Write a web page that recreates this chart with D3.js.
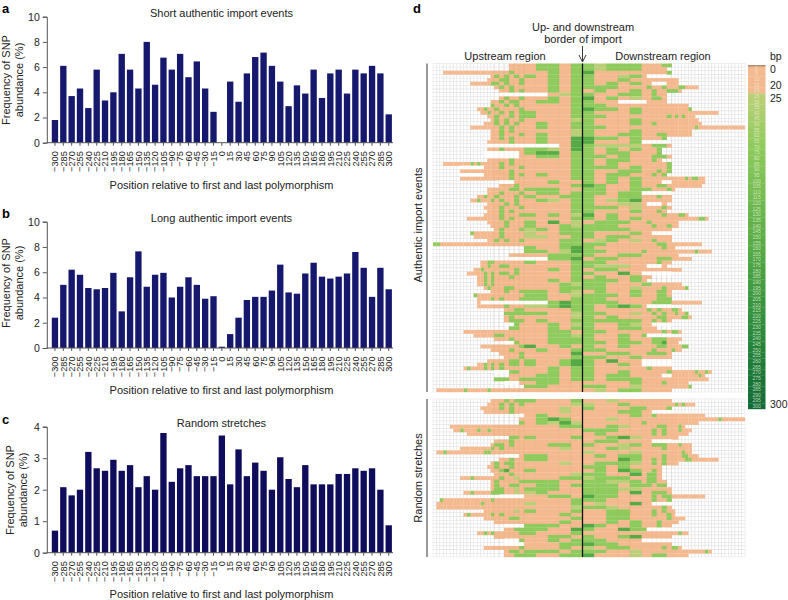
<!DOCTYPE html>
<html>
<head>
<meta charset="utf-8">
<script src="https://cdn.jsdelivr.net/npm/d3@7"></script>
<style>
  body { margin: 0; background: #fff; }
  text { font-family: "Liberation Sans", Arial, sans-serif; fill: #222; }
</style>
</head>
<body>
<script>
const positions = ["−300","−285","−270","−255","−240","−225","−210","−195","−180","−165","−150","−135","−120","−105","−90","−75","−60","−45","−30","−15","0","15","30","45","60","75","90","105","120","135","150","165","180","195","210","225","240","255","270","285","300"];

const shortEvents = [1.8,6.1,3.7,4.3,2.75,5.8,3.35,4.0,7.05,5.8,4.3,8.0,4.6,6.75,5.8,7.05,5.2,6.45,4.3,2.45,0,4.85,3.25,5.5,6.8,7.15,6.1,4.85,2.9,4.55,3.9,5.8,3.55,5.5,5.8,3.9,5.8,5.5,6.1,5.5,2.25];
const longEvents = [2.4,5.0,6.2,5.8,4.75,4.65,4.75,5.95,2.9,5.6,7.65,4.85,5.8,5.95,4.0,4.85,5.6,5.0,3.9,4.1,0.1,1.1,2.4,3.8,4.05,4.05,4.55,6.6,4.4,4.3,5.9,6.75,5.65,5.5,5.65,5.9,7.6,6.35,4.05,6.35,4.65];
const randomStretches = [0.7,2.08,1.82,2.0,3.2,2.68,2.6,2.95,2.6,2.78,2.08,2.43,2.0,3.8,2.25,2.68,2.78,2.43,2.43,2.43,3.72,2.17,3.28,2.43,2.86,2.6,2.0,3.03,2.34,2.08,2.78,2.17,2.17,2.17,2.5,2.5,2.68,2.6,2.68,2.0,0.87];

// heatmap : une lettre par case, o = 0 bp, a b c d = de plus en plus vert, _ = blanc
// upstream rows are written up to the border, downstream rows start from it
const bpCodes = { o: 0, a: 25, b: 70, c: 160, d: 240 };

const authenticUp = [
"ooo obbob","ooo obbob","ooooooooooooooo oooboo oobob","o bobobo bobob","oo obboob oobob","oooooob boboob oobob","oboboo oobob","oobob oobob","_____ __oab","oboob oobob",
"o obobbo obbob","b oobobo oooob","ooboo boooob oooob","oobo obobob booob","oo boobob booob","o boboob ooooa","ooo bobobo oboob","ooooooo oboboo oboob","o oboboo ooooa","o obooob obooa",
"o oboboo obooc","oo oooboo obooc","__ ______ ___oc","oo oboooo bbaoc","___ _____o bccob","__ _____o obbob","oo oooboo oooob","ooooooooboboooo oboboo oooob","_______ooo obooob oooob","oooooooooo oooboo oooob",
"_______ooo ooobob oboob","oooooooooo oooboo oooob","___oo ooboo","ooobo oooob","oo ooobbo bbboo","oo obooob obbob","ooboo booobo boobb","oobooob oboobo obaob","oo oobobo oooob","ooo obooob oooob",
"oo oboboo oooob","ooo obooob boboa","oooooooo oboboo oooob","oo oobooo bocoa","o oobooo booba","obooob abobb","boooooo oboooo aoobb","oooooo oboooo aaoob","oo boboob ooobb","bboooooooooooooooo oooooo ooobb",
"boobc","bboac","ooo oobbb","___ __bbc","oobb oooooo booob","oobo obbooo oooob","oobooo oooobo oobob","ooooobob obbobo oooob","oobob oooboo oooob","oobob oooooo oobob",
"oobob oooooo oooba","obo oobboo ooobb","o ooboob bboba","booooo oooooo bbooa","oooob obooob bboob","o____ ______ __bcb","ooooo oobooo aabcb","oobb oooob","bbbb bbooa","oboo ooooa",
"obbb oboob","__bo ooboa","bbo oobob","ooooooooo oooooo oobbo","oooooo bboooo oobba","oooboo oobbb","__bo oobbb","oooo ooooob coobo","o oooboo oboob","oooob ooooc",
"ooob oooob","oo ooobbo boobc","oobob obobbo boobc","oboooobob oboooo oobob","___bbo oobob","ooo obbob","bbboob bbbob","___o obboo","bbooo","ooooooooboooooobo oooooo ooooo"
];

const authenticDown = [
"babbb oooobb","babbb ooooo","coooo ooooob","booab o____","boobo oooooo oo","bobob oo___o oo","bbboo oboobo oobboooo","oboob ooboob bbo","boobb ooboo","coboa oobbo",
"boo__ _oooo","bbooo oooooo ooooo","cbbob oooooo ooooob","booob oooooo oooooooooooooo","bbooo ooooob obobooo","booob oooooo oooooooo","booob oobooo ooooooooo","bbooo oooooo oooooooboooooooooooooo","booob oooooo oooooo","boobb ooobbo oooooo",
"cbbob oooob","cooob _____","baaaa oobbbo","bobob ooob","bobbo ooob","bbobo oobbbo","bobbo oobo","boboo ooooob","bbbob ooooob","boobb ooobob",
"bobbo oobob","bobob oooooo oooobobboo","bobob oooo__ oooooooooo","cboob ooobbo ooooooooo","bboob bbooob o","bbobb ______","boobb oooboo","boabc oooooo","booaa o___o","bbboa oooobo",
"booob ooobo","coboo oooobo oobbo","bobob oooooo oooooooobbo","obbbo oboooo oo","bbboo ooboob oo","bbbbo oooooo","booob oo____","bobbo oooooo","oaboa oobooo","bbooo ooobbo ooooooooo",
"boooo oooobo o","bbooo booooo oooooooboooo","boobb oooooo oo","obboo ooobbb oooooo","bbooo oooboo","baaao o___o","obboo oooooo ooo","booco ______","oboob oo","bbbob o",
"bbooo bboooo ooo","bbooa oooobo oooob","oboob ooobbo","bbbob ooobbo","bbooo ooobbb","bbboo oobbbb ooooooooo","bobcb o_____","boooo oboboo bbo","bbooa oobobo oboob","boboo ooobbo ooobbo",
"bbbbb oobobo","booba oo____","boobb ooo","bbooo oooobo bbo","boobo b_____","boobo oobbbo ooo","bbobb oobbco oo","boobo ooobbo ooobb","bbooo oobooo boo","oobbo obbbbo",
"bboob oooooo","bocoo ______","boobo ______","boooo oboooo","boobo ooooob oooooooboobo","bobbo oooo__ oooooooobo","bobbb oooooo ooooooooooo","oooob oooobo ooooo","bbooa oooooo ooooob","oaobb oooooo"
];

const randomUp = [
"o oobobb booob","oo obobob ooooa","oooo oboboo oooao","ooo oooboo oooao","_ obooo","o obcbo","b obaca","ooooooooooooo oooooo ooobb","oobooooboobo oooooo ooooo","oooooooo oooooo ooooo",
"bbo booob","oooboo ooooo","o bboboo oobbo","ooooooooob oboooo oooao","oobooooooooooobbo oooooo ooooo","___o bbooo","ooboo bbooo","o bobboo oooao","oo booboo ooooo","o obcooo boooo",
"oooboo ooooa","oooboooooo obooao ooobb","o boooob bbboo","o boobbo obbob","o bbooao bbboo","oobooooob bbooao abooo","_____ oobbo","boooooooooooooob oooooo oooob","ooooooooooooobooo oooooo aooob","ooooooooooooooooo oooooo ooooa",
"ooo ooooao booob","oboooooob oboooo ooobo","ooo ooobbo oooob","oooooo ooobo","____ bbboo","oobb bbooc","oobob ooooob booob","oooooo oobbo","___b oobob","____ ooobb",
"ooo ooooob ooobo","obbo bbbob","oobb boobb"
];

const randomDown = [
"ooaoo oooooo","aoobo oooooo obobooo","booob boooob","ooobb oo____","oooob oobooo oooooooooo","ooaoo oooooo oooooooooooooobooooooo","ooooo booooo oooooooo","oobao ooobbo oobo","bbboo oobobo oobooo","obooo oobobo ooooo",
"oobca oooooo oo","obboo oo____","booab oobbbo oobooo","oobao oooobo oooooo","aoooa oooooo oooboo","obobb oooobo ooobbooo","ooocb oobobo oooobboooooooo","obbba oobobo oo","bbobo oooo","obocb oobo",
"bbooc obbo","abbbo obbo","bbaab obboo","bbbob bbobb","bbbaa oooooo","bbboc oobbbo","cbboo oobobb oooooooooo","bbooo ooboob","oaooc oo____","bbaoo oooobo",
"oobbo oobobo o","oobbo ooboob o","oobbo ooooob oooo","oobob oooboo oo","cboob oooboo","boocb b_____","ooooo oooooo ooboo","boobc oooooo","bbooo ______","cbboo oooooo",
"aobbo oooobo bbo","bbooa oooooo oooooooooobo","coooa oobbbo ooooo"
];

const largeur = 788, hauteur = 600;

// legend : 0 to 300 bp in steps of 5
const legendBp = d3.range(0, 301, 5);

const svg = d3.select("body").append("svg").attr("width", largeur).attr("height", hauteur);

// ---- les barres
function panneauBarres(cfg) {
  const x = d3.scaleBand().domain(positions).range([50.8, 392.9]).paddingInner(0.24).paddingOuter(0.12);
  const y = d3.scaleLinear().domain([0, cfg.max]).range([cfg.y0, cfg.y1]);
  const g = svg.append("g");

  g.selectAll("rect").data(cfg.values).join("rect")
    .attr("x", (d, i) => x(positions[i]))
    .attr("width", x.bandwidth())
    .attr("y", d => y(d))
    .attr("height", d => y(0) - y(d))
    .attr("fill", cfg.color);

  const axeY = g.append("g").attr("transform", "translate(46.8,0)")
    .call(d3.axisLeft(y).tickValues(cfg.ticks).tickFormat(d3.format("d")).tickSize(4).tickPadding(3));
  axeY.selectAll("text").style("font-size", "10.5px");
  axeY.selectAll("line,path").attr("stroke", "#555");

  const axeX = g.append("g").attr("transform", `translate(0,${cfg.y0})`)
    .call(d3.axisBottom(x).tickSize(3).tickSizeOuter(0));
  axeX.select(".domain").remove();
  axeX.selectAll("line").attr("stroke", "#555");
  axeX.selectAll("text")
    .style("font-size", "9.2px")
    .attr("text-anchor", "end")
    .attr("dy", null)
    .attr("transform", "translate(3.3,8.5) rotate(-90)")
    .attr("x", 0).attr("y", 0);
  g.append("line").attr("x1", 46.8).attr("x2", 393).attr("y1", cfg.y0).attr("y2", cfg.y0).attr("stroke", "#555");

  g.append("text").attr("x", cfg.titleX).attr("y", cfg.titleY).attr("text-anchor", "middle").style("font-size", "11px").text(cfg.title);
  g.append("text").attr("x", 221.5).attr("y", cfg.xTitleY).attr("text-anchor", "middle").style("font-size", "11px").text("Position relative to first and last polymorphism");
  g.append("text").attr("transform", `translate(${cfg.yTitleX},${cfg.yTitleY}) rotate(-90)`).attr("text-anchor", "middle").style("font-size", "11px")
    .selectAll("tspan").data(["Frequency of SNP", "abundance (%)"]).join("tspan")
    .attr("x", 0).attr("dy", (d, i) => i ? 12.5 : 0).text(d => d);
  svg.append("text").attr("x", 2).attr("y", cfg.letterY).style("font-size", "13px").style("font-weight", "bold").style("fill", "#000").text(cfg.letter);
}

panneauBarres({ values: shortEvents, max: 10, ticks: [0,2,4,6,8,10], y0: 142.7, y1: 16.7, color: "#15186c", title: "Short authentic import events", titleX: 221.5, titleY: 17, xTitleY: 189, yTitleX: 10, yTitleY: 80, letter: "a", letterY: 13 });
panneauBarres({ values: longEvents, max: 10, ticks: [0,2,4,6,8,10], y0: 348, y1: 221.7, color: "#15186c", title: "Long authentic import events", titleX: 221.5, titleY: 222, xTitleY: 394, yTitleX: 10, yTitleY: 283, letter: "b", letterY: 218 });
panneauBarres({ values: randomStretches, max: 4, ticks: [0,1,2,3,4], y0: 552.7, y1: 426.7, color: "#100c5c", title: "Random stretches", titleX: 221.5, titleY: 427, xTitleY: 598, yTitleX: 14, yTitleY: 490, letter: "c", letterY: 424 });

// ---- heatmap
const vert = d3.scaleLinear().domain([25, 70, 160, 240, 300]).range(["#bccf78", "#8ecb5c", "#55aa46", "#27873c", "#126a38"]);
const saumon = "#f4b98e";
const couleur = bp => bp < 25 ? saumon : vert(bp);

const centre = 582.5;
const xUp = d3.scaleLinear().domain([0, 5, 11, 29]).range([centre, 524, 494, 433]);
const xDown = d3.scaleLinear().domain([0, 5, 11, 33]).range([centre, 641.7, 671.7, 745]);

function heatmap(up, down, yHaut, yBas) {
  const y = d3.scaleBand().domain(d3.range(up.length)).range([yHaut, yBas]);
  const g = svg.append("g").style("filter", "blur(0.45px)");
  const cases = [];
  up.forEach((ligne, r) => {
    const s = ligne.replace(/ /g, "");
    for (let c = 0; c < 29; c++) {
      const k = s.length - 1 - c;
      cases.push({ r, x0: xUp(c + 1), x1: xUp(c), v: k >= 0 ? s[k] : "." });
    }
  });
  down.forEach((ligne, r) => {
    const s = ligne.replace(/ /g, "");
    for (let c = 0; c < 33; c++) {
      cases.push({ r, x0: xDown(c), x1: xDown(c + 1), v: c < s.length ? s[c] : "." });
    }
  });

  // grille d'abord, les cases remplies par dessus
  g.selectAll(".grille").data(cases.filter(d => d.v === ".")).join("rect")
    .attr("x", d => d.x0).attr("width", d => d.x1 - d.x0)
    .attr("y", d => y(d.r)).attr("height", y.bandwidth())
    .attr("fill", "#fff").attr("stroke", "#e2e2e2").attr("stroke-width", 0.5);

  g.selectAll(".rempli").data(cases.filter(d => d.v !== ".")).join("rect")
    .attr("x", d => d.x0).attr("width", d => d.x1 - d.x0 + 0.2)
    .attr("y", d => y(d.r)).attr("height", y.bandwidth() + 0.2)
    .attr("fill", d => d.v === "_" ? "#fff" : couleur(bpCodes[d.v]));

  // traits verticaux des colonnes, très faibles
  const bords = [...d3.range(0, 12).map(c => xUp(c)), ...d3.range(1, 12).map(c => xDown(c))];
  g.selectAll(".col").data(bords).join("line")
    .attr("x1", d => d).attr("x2", d => d).attr("y1", yHaut).attr("y2", yBas)
    .attr("stroke", "#b08a70").attr("stroke-opacity", 0.2).attr("stroke-width", 0.6);

  svg.append("line").attr("x1", centre).attr("x2", centre).attr("y1", yHaut).attr("y2", yBas).attr("stroke", "#111").attr("stroke-width", 1.3);
  svg.append("line").attr("x1", 427).attr("x2", 427).attr("y1", yHaut).attr("y2", yBas).attr("stroke", "#555").attr("stroke-width", 1.2);
}

heatmap(authenticUp, authenticDown, 63.5, 392);
heatmap(randomUp, randomDown, 399, 557);

// legende
const yLeg = d3.scaleBand().domain(legendBp).range([65, 409]);
const legende = svg.append("g");
legende.selectAll("rect").data(legendBp).join("rect")
  .attr("x", 748).attr("width", 17.5)
  .attr("y", d => yLeg(d)).attr("height", yLeg.bandwidth() + 0.2)
  .attr("fill", d => couleur(d));
legende.append("rect").attr("x", 748).attr("y", 65).attr("width", 17.5).attr("height", 1.5).attr("fill", "#b08a70");
legende.selectAll("text").data(legendBp).join("text")
  .attr("x", 756.7).attr("y", d => yLeg(d) + yLeg.bandwidth() / 2 + 1.9)
  .attr("text-anchor", "middle").style("font-size", "5px").style("fill", "#e6f0d4").style("fill-opacity", 0.8)
  .text(d => d);

const legendLabels = [0, 20, 25, 300];
const decalage = { 0: 5, 20: -1, 25: 5.5, 300: 1.5 };
legendLabels.forEach(t => {
  svg.append("text").attr("x", 770).attr("y", yLeg(t) + yLeg.bandwidth() / 2 + decalage[t]).style("font-size", "10.5px").text(t);
});
svg.append("text").attr("x", 770).attr("y", 60).style("font-size", "10.5px").text("bp");

// textes du panneau d
svg.append("text").attr("x", 413).attr("y", 13).style("font-size", "13px").style("font-weight", "bold").style("fill", "#000").text("d");
svg.append("text").attr("x", 583).attr("y", 31).attr("text-anchor", "middle").style("font-size", "11px").text("Up- and downstream");
svg.append("text").attr("x", 583).attr("y", 43).attr("text-anchor", "middle").style("font-size", "11px").text("border of import");
svg.append("text").attr("x", 505).attr("y", 60).attr("text-anchor", "middle").style("font-size", "11px").text("Upstream region");
svg.append("text").attr("x", 663).attr("y", 60).attr("text-anchor", "middle").style("font-size", "11px").text("Downstream region");
svg.append("text").attr("transform", "translate(422,225) rotate(-90)").attr("text-anchor", "middle").style("font-size", "11px").text("Authentic import events");
svg.append("text").attr("transform", "translate(422,478) rotate(-90)").attr("text-anchor", "middle").style("font-size", "11px").text("Random stretches");

// la fleche
svg.append("path").attr("d", `M${centre},46V61M${centre - 3.5},55L${centre},62L${centre + 3.5},55`).attr("fill", "none").attr("stroke", "#222").attr("stroke-width", 0.9);
</script>
</body>
</html>
